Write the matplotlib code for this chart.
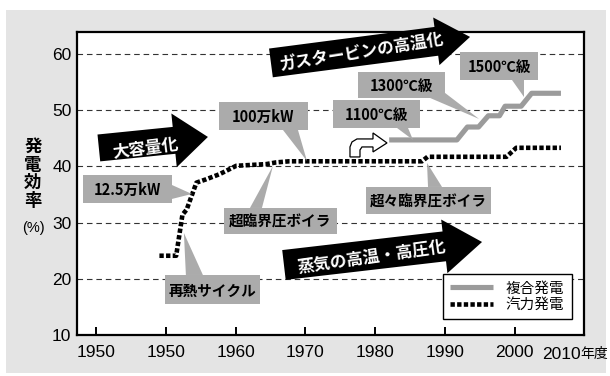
import numpy as np
import matplotlib
matplotlib.use("Agg")
import matplotlib.pyplot as plt
from matplotlib.patches import Rectangle, Polygon

# ---- data (fiscal year, generating efficiency %) ----
combined_years = [1982.0, 1991.7, 1993.2, 1994.8, 1996.2, 1997.8, 1998.6, 2000.9, 2002.4, 2006.6]
combined_eff = [44.7, 44.7, 47.0, 47.0, 49.0, 49.0, 50.7, 50.7, 53.0, 53.0]

thermal_years = [1949.1, 1951.5, 1952.4, 1953.0, 1953.7, 1954.4, 1955.8, 1957.7, 1960.1,
                 1964.4, 1965.8, 1967.7, 1986.7, 1987.5, 1998.8, 2000.2, 2006.6]
thermal_eff = [24.1, 24.1, 31.4, 32.3, 34.7, 37.1, 37.7, 38.6, 40.1,
               40.4, 40.7, 40.9, 40.9, 41.7, 41.7, 43.3, 43.3]

series_labels = ["複合発電", "汽力発電"]
x_ticks = [1940, 1950, 1960, 1970, 1980, 1990, 2000]
x_tick_labels = ["1950", "1950", "1960", "1970", "1980", "1990", "2000"]
y_ticks = [10, 20, 30, 40, 50, 60]

CJK = ["Noto Sans CJK JP", "DejaVu Sans"]
LAT = ["Liberation Sans", "Noto Sans CJK JP"]
BOX_GRAY = "#ababab"
LINE_GRAY = "#9b9b9b"

W, H = 610, 376
fig = plt.figure(figsize=(W / 100, H / 100), dpi=100)
fig.patches.append(Rectangle((6 / W, 3 / H), 600 / W, 363 / H, transform=fig.transFigure,
                             facecolor="#e4e4e4", edgecolor="none", zorder=-10))
ax = fig.add_axes([77 / W, 41 / H, 507 / W, 303 / H])
ax.set_facecolor("white")
ax.set_xlim(1937.3, 2009.9)
ax.set_ylim(10, 63.9)


def px2d(px, py):
    # layout helper: picture pixel -> data coords (for annotations only)
    return 1940 + (px - 96) / 6.98, 10 + (335 - py) / 5.62


# lines
l_comb, = ax.plot(combined_years, combined_eff, color=LINE_GRAY, lw=3.7,
                  solid_capstyle="butt", zorder=3)
l_therm, = ax.plot(thermal_years, thermal_eff, color="black", lw=3.3,
                   linestyle=(0, (0.95, 0.5)), dash_capstyle="butt", zorder=3)

# axes styling
for s in ax.spines.values():
    s.set_linewidth(1.6)
ax.set_xticks(x_ticks)
ax.set_xticklabels(x_tick_labels)
ax.set_yticks(y_ticks)
ax.tick_params(axis="x", direction="in", length=6, width=1.4, pad=7, labelsize=12.5)
ax.tick_params(axis="y", length=0, pad=4, labelsize=12.5)
for lab in ax.get_xticklabels() + ax.get_yticklabels():
    lab.set_family(LAT)
ax.yaxis.grid(True, color="#333333", lw=0.8, linestyle=(0, (5, 3.5)))
ax.set_axisbelow(True)

ax.text(*px2d(542, 354), "2010", family=LAT, fontsize=12.5, ha="left", va="center",
        clip_on=False)
ax.text(*px2d(580, 354), "年度", family=CJK, fontsize=10, ha="left", va="center",
        clip_on=False)

# y label, stacked characters
for i, ch in enumerate("発電効率"):
    ax.text(*px2d(33, 147 + i * 18), ch, family=CJK, fontsize=12.5, fontweight="bold",
            ha="center", va="center", clip_on=False)
ax.text(*px2d(34, 228), "(%)", family=LAT, fontsize=10.5, ha="center", va="center",
        clip_on=False)


def callout(box, wedge, text):
    x0, y0, x1, y1 = box
    bx, by = px2d(x0, y1)
    ax.add_patch(Polygon([px2d(*p) for p in wedge], closed=True, facecolor=BOX_GRAY,
                         edgecolor="none", zorder=5, clip_on=False))
    ax.add_patch(Rectangle((bx, by), (x1 - x0) / 6.98, (y1 - y0) / 5.62, facecolor=BOX_GRAY,
                           edgecolor="none", zorder=5, clip_on=False))
    ax.text(*px2d((x0 + x1) / 2, (y0 + y1) / 2 + 1), text, family=CJK, fontsize=10.5,
            fontweight="bold", ha="center", va="center", zorder=6)


callout((219, 102, 308, 130), [(283, 130), (298, 130), (307, 161)], "100万kW")
callout((83, 175, 172, 203), [(172, 185), (172, 199), (192, 194)], "12.5万kW")
callout((224, 208, 337, 234), [(250, 208), (262, 208), (273, 166)], "超臨界圧ボイラ")
callout((165, 275, 260, 304), [(186, 275), (203, 275), (184, 233)], "再熱サイクル")
callout((366, 187, 491, 214), [(428, 187), (442, 187), (427, 163)], "超々臨界圧ボイラ")
callout((333, 100, 420, 128), [(397, 128), (408, 128), (413, 140)], "1100℃級")
callout((358, 72, 445, 98), [(430, 98), (445, 93), (479, 119)], "1300℃級")
callout((460, 52, 538, 80), [(512, 80), (524, 80), (524, 97)], "1500℃級")


def big_arrow(tail, tip, bw, hw, hl, text, center):
    t = np.array(tail, float)
    p = np.array(tip, float)
    d = p - t
    u = d / np.hypot(*d)
    n = np.array([u[1], -u[0]])
    base = p - u * hl
    pts = [t + n * bw, base + n * bw, base + n * hw, p, base - n * hw, base - n * bw, t - n * bw]
    ax.add_patch(Polygon([px2d(*q) for q in pts], closed=True, facecolor="black",
                         edgecolor="none", zorder=4, clip_on=False))
    ang = np.degrees(np.arctan2(-d[1], d[0])) + 1.5
    ax.text(*px2d(*center), text, family=CJK, fontsize=12, fontweight="bold", color="white",
            rotation=ang, rotation_mode="anchor", ha="center", va="center", zorder=6,
            clip_on=False)


big_arrow((99, 148), (208, 137), 13.5, 27, 34, "大容量化", (146, 149))
big_arrow((271, 63), (470, 37), 14.5, 24, 34, "ガスタービンの高温化", (362, 53))
big_arrow((284, 265), (482, 242), 15, 27, 38, "蒸気の高温・高圧化", (372, 257))

# small hollow bent arrow
bent = [(350, 157), (350, 147), (352, 142), (357, 139), (373, 139), (373, 133), (387, 143),
        (373, 152), (373, 147), (362, 147), (360, 150), (360, 157)]
ax.add_patch(Polygon([px2d(*q) for q in bent], closed=True, facecolor="white",
                     edgecolor="black", lw=0.9, zorder=4))

leg = ax.legend([l_comb, l_therm], series_labels, loc="lower left",
                bbox_to_anchor=(0.722, 0.053), borderaxespad=0, frameon=True,
                fancybox=False, edgecolor="black", framealpha=1, handlelength=2.9,
                handletextpad=0.9, labelspacing=0.15, borderpad=0.5,
                prop={"family": CJK, "size": 10.5})
leg.get_frame().set_linewidth(1.0)
leg.set_zorder(7)

fig.savefig("out.png", dpi=100)
